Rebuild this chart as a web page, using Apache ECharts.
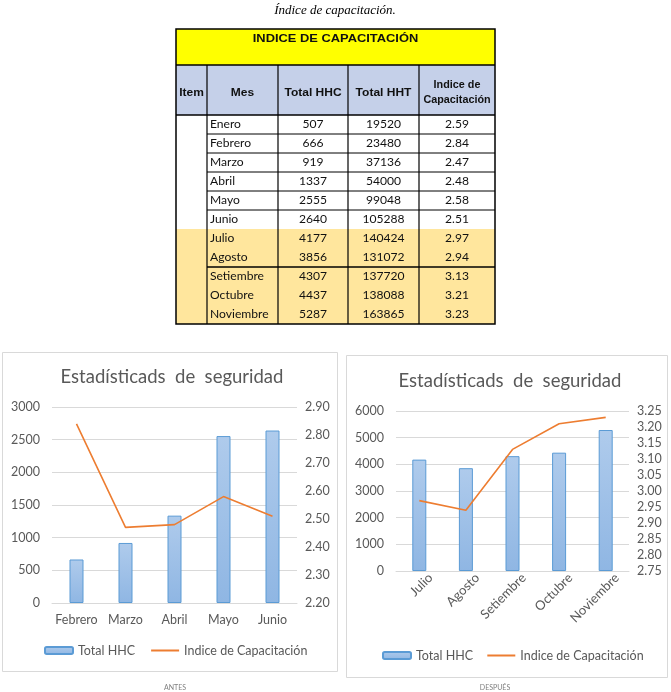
<!DOCTYPE html>
<html>
<head>
<meta charset="utf-8">
<script src="https://cdn.jsdelivr.net/npm/echarts@6/dist/echarts.min.js"></script>
<style>
html,body{margin:0;padding:0;background:#fff;}
#c{width:671px;height:692px;}
</style>
</head>
<body>
<div id="c"></div>
<script>
// ---- Table data ----
const tableMonths = ['Enero','Febrero','Marzo','Abril','Mayo','Junio','Julio','Agosto','Setiembre','Octubre','Noviembre'];
const tableHHC = [507,666,919,1337,2555,2640,4177,3856,4307,4437,5287];
const tableHHT = [19520,23480,37136,54000,99048,105288,140424,131072,137720,138088,163865];
const tableIndice = ['2.59','2.84','2.47','2.48','2.58','2.51','2.97','2.94','3.13','3.21','3.23'];
const tableHeaders = ['Item','Mes','Total HHC','Total HHT','Indice de\nCapacitación'];

// ---- Chart data ----
const antesMonths = ['Febrero','Marzo','Abril','Mayo','Junio'];
const antesHHC = [666,919,1337,2555,2640];
const antesIndice = [2.84,2.47,2.48,2.58,2.51];
const despuesMonths = ['Julio','Agosto','Setiembre','Octubre','Noviembre'];
const despuesHHC = [4177,3856,4307,4437,5287];
const despuesIndice = [2.97,2.94,3.13,3.21,3.23];

const FONT = 'Lato, "Noto Sans", sans-serif';
const GREY = '#595959';

// ---- Table graphic ----
const colX = [176,207,278,348,419,495];
const tTop = 29, yellowBottom = 65, headBottom = 115, rowH = 19;
const nRows = tableMonths.length;
const tBottom = headBottom + rowH * nRows;
const g = [];
function rect(x,y,w,h,fill){ g.push({type:'rect',shape:{x:x,y:y,width:w,height:h},style:{fill:fill},silent:true}); }
function line(x1,y1,x2,y2,w){ g.push({type:'line',shape:{x1:x1,y1:y1,x2:x2,y2:y2},style:{stroke:'#000',lineWidth:w||1},silent:true}); }
function text(t,x,y,font,align,color,sx,lh){
  g.push({type:'text',x:x,y:y,scaleX:sx||1,silent:true,
    style:{text:t,font:font,fill:color||'#111',textAlign:align||'center',textVerticalAlign:'middle',align:align||'center',verticalAlign:'middle',lineHeight:lh||14}});
}

rect(colX[0],tTop,colX[5]-colX[0],yellowBottom-tTop,'#ffff00');
rect(colX[0],yellowBottom,colX[5]-colX[0],headBottom-yellowBottom,'#c5d0e9');
for (let i=0;i<nRows;i++){
  rect(colX[0],headBottom+i*rowH,colX[5]-colX[0],rowH, i>=6 ? '#ffe69d' : '#ffffff');
}
line(colX[0],yellowBottom,colX[5],yellowBottom,1.5);
line(colX[0],headBottom,colX[5],headBottom,1.5);
for (let c=1;c<5;c++){ line(colX[c],yellowBottom,colX[c],tBottom,1.2); }
const rowLines = [1,2,3,4,5,8];
rowLines.forEach(function(r){ line(colX[1],headBottom+r*rowH,colX[5],headBottom+r*rowH, r===8?1.5:1); });
g.push({type:'rect',shape:{x:colX[0],y:tTop,width:colX[5]-colX[0],height:tBottom-tTop},style:{fill:'none',stroke:'#000',lineWidth:1.5},silent:true});

text('INDICE DE CAPACITACIÓN',(colX[0]+colX[5])/2,39,'bold 11px "Liberation Sans", Arial, sans-serif','center','#111',1.17);
tableHeaders.forEach(function(h,c){
  text(h,(colX[c]+colX[c+1])/2,93,'bold 10px "Liberation Sans", Arial, sans-serif','center','#111',c===4?1.08:1.2,15);
});
for (let i=0;i<nRows;i++){
  const cy = headBottom + i*rowH + rowH/2 - 0.5;
  text(tableMonths[i],colX[1]+3,cy,'11px '+FONT,'left','#111',1.1);
  text(String(tableHHC[i]),(colX[2]+colX[3])/2,cy,'11px '+FONT,'center','#111',1.1);
  text(String(tableHHT[i]),(colX[3]+colX[4])/2,cy,'11px '+FONT,'center','#111',1.1);
  text(tableIndice[i],(colX[4]+colX[5])/2,cy,'11px '+FONT,'center','#111',1.1);
}
text('Índice de capacitación.',335,11,'italic 13px "Liberation Serif", "DejaVu Serif", serif','center','#000');
g.push({type:'rect',shape:{x:2.5,y:352.5,width:335,height:319},style:{fill:'none',stroke:'#d9d9d9',lineWidth:1},silent:true,z:-1});
g.push({type:'rect',shape:{x:346.5,y:355.5,width:321,height:322},style:{fill:'none',stroke:'#d9d9d9',lineWidth:1},silent:true,z:-1});
text('ANTES',175,688,'7px '+FONT,'center','#7f7f7f');
text('DESPUÉS',495,688,'7px '+FONT,'center','#7f7f7f');

const barColor = {type:'linear',x:0,y:0,x2:0,y2:1,colorStops:[{offset:0,color:'#afcbec'},{offset:1,color:'#8fb6e3'}]};
const barStyle = {color:barColor,borderColor:'#5b9bd5',borderWidth:1};
const lineStyle = {color:'#ed7d31',width:1.6};

function yLeft(grid,max,interval){
  return {type:'value',gridIndex:grid,min:0,max:max,interval:interval,position:'left',
    axisLine:{show:false},axisTick:{show:false},
    splitLine:{lineStyle:{color:'#d9d9d9',width:1}},
    axisLabel:{color:GREY,fontFamily:FONT,fontSize:12.5,margin:12,formatter:function(v){return String(v);}}};
}
function yRight(grid,min,max,interval){
  return {type:'value',gridIndex:grid,min:min,max:max,interval:interval,position:'right',
    axisLine:{show:false},axisTick:{show:false},splitLine:{show:false},
    axisLabel:{color:GREY,fontFamily:FONT,fontSize:12.5,margin:8,formatter:function(v){return v.toFixed(2);}}};
}
const noDot = {opacity:0,color:'rgba(0,0,0,0)',borderWidth:0};
const titleStyle = {color:GREY,fontFamily:FONT,fontSize:18.5,fontWeight:'normal'};

const option = {
  animation:false,
  backgroundColor:'#fff',
  graphic:g,
  title:[
    {text:'Estadísticads  de  seguridad',left:172,top:368,padding:0,textAlign:'center',textStyle:titleStyle},
    {text:'Estadísticads  de  seguridad',left:510,top:372,padding:0,textAlign:'center',textStyle:titleStyle}
  ],
  grid:[
    {left:52,top:407,width:245,height:196},
    {left:396,top:411,width:233,height:160}
  ],
  legend:[
    {data:['Total HHC',{name:'Indice de Capacitación',itemStyle:noDot}],left:44,top:644,padding:0,itemWidth:28,itemHeight:7,itemGap:15,
      textStyle:{color:GREY,fontFamily:FONT,fontSize:12.5},selectedMode:false},
    {data:['Total HHC ',{name:'Indice de Capacitación ',itemStyle:noDot}],left:382,top:649,padding:0,itemWidth:28,itemHeight:7,itemGap:10,
      textStyle:{color:GREY,fontFamily:FONT,fontSize:12.5},selectedMode:false}
  ],
  xAxis:[
    {type:'category',gridIndex:0,data:antesMonths,axisTick:{show:false},
      axisLine:{lineStyle:{color:'#d9d9d9'}},
      axisLabel:{color:GREY,fontFamily:FONT,fontSize:12.5,margin:10,interval:0}},
    {type:'category',gridIndex:1,data:despuesMonths,axisTick:{show:false},
      axisLine:{lineStyle:{color:'#d9d9d9'}},
      axisLabel:{color:GREY,fontFamily:FONT,fontSize:13,margin:16,rotate:45,interval:0,padding:[0,-16,0,0]}}
  ],
  yAxis:[
    yLeft(0,3000,500),
    yRight(0,2.2,2.9,0.1),
    yLeft(1,6000,1000),
    yRight(1,2.75,3.25,0.05)
  ],
  series:[
    {name:'Total HHC',type:'bar',xAxisIndex:0,yAxisIndex:0,data:antesHHC,barWidth:14,itemStyle:barStyle},
    {name:'Indice de Capacitación',type:'line',xAxisIndex:0,yAxisIndex:1,data:antesIndice,symbol:'none',lineStyle:lineStyle,itemStyle:{color:'#ed7d31'}},
    {name:'Total HHC ',type:'bar',xAxisIndex:1,yAxisIndex:2,data:despuesHHC,barWidth:14,itemStyle:barStyle},
    {name:'Indice de Capacitación ',type:'line',xAxisIndex:1,yAxisIndex:3,data:despuesIndice,symbol:'none',lineStyle:lineStyle,itemStyle:{color:'#ed7d31'}}
  ]
};
const chart = echarts.init(document.getElementById('c'),null,{renderer:'canvas'});
chart.setOption(option);
</script>
</body>
</html>
